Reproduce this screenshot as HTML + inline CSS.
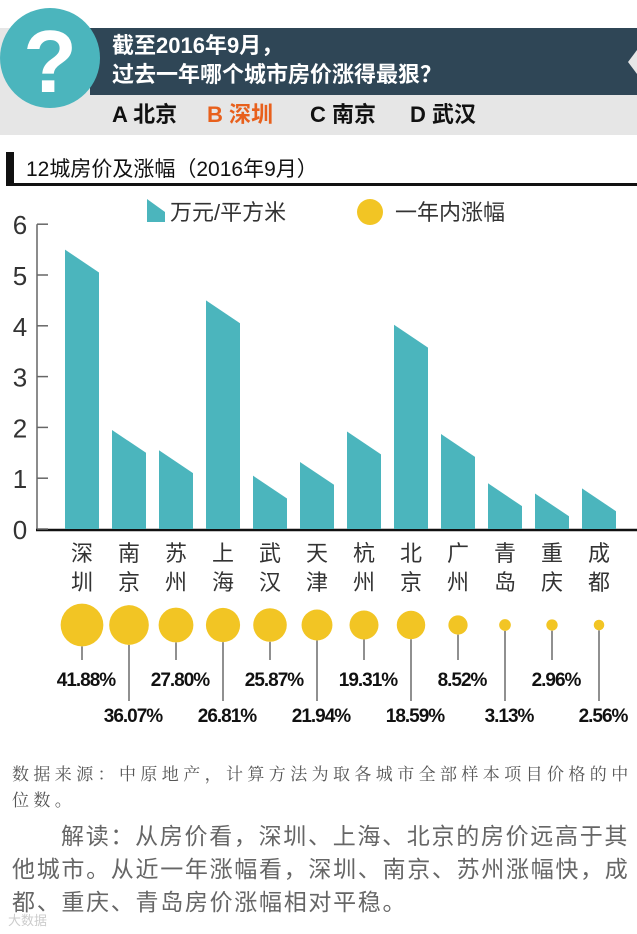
<!DOCTYPE html>
<html><head><meta charset="utf-8"><style>
html,body{margin:0;padding:0;background:#fff;}
body{width:637px;height:934px;overflow:hidden;position:relative;font-family:"Liberation Sans","Noto Sans CJK SC",sans-serif;}
svg{position:absolute;left:0;top:0;}
.src{position:absolute;left:12px;top:762px;width:700px;font-family:"Liberation Serif","Noto Serif CJK SC",serif;font-size:17px;line-height:26px;color:#555;letter-spacing:4.4px;white-space:nowrap;}
.txt{position:absolute;left:12px;top:820px;width:625px;font-size:23px;line-height:33px;color:#666;text-indent:49px;letter-spacing:1.7px;}
.wm{position:absolute;left:8px;top:910px;font-size:13px;color:#ccc;}
</style></head><body>
<svg width="637" height="934">
  <rect x="0" y="28" width="637" height="107" fill="#e6e6e6"/>
  <polygon points="90,28 637,28 637,50 628,62 637,74 637,95 90,95" fill="#2f4656"/>
  <circle cx="50" cy="58" r="50" fill="#4bb5bd"/>
  <text x="50" y="92" text-anchor="middle" font-size="88" font-weight="bold" fill="#fff">?</text>
  <text x="112" y="53" font-size="22" font-weight="bold" fill="#fff">截至2016年9月，</text>
  <text x="112" y="82" font-size="22" font-weight="bold" fill="#fff">过去一年哪个城市房价涨得最狠？</text>
  <text x="112" y="122" font-size="22" font-weight="bold" fill="#111">A 北京</text>
  <text x="207" y="122" font-size="22" font-weight="bold" fill="#e8601c">B 深圳</text>
  <text x="310" y="122" font-size="22" font-weight="bold" fill="#111">C 南京</text>
  <text x="410" y="122" font-size="22" font-weight="bold" fill="#111">D 武汉</text>
  <rect x="6" y="152" width="8" height="34" fill="#111"/>
  <rect x="6" y="183" width="631" height="3" fill="#111"/>
  <text x="26" y="176" font-size="21" fill="#111">12城房价及涨幅（2016年9月）</text>
  <polygon points="147,199 165,212 165,222 147,222" fill="#4bb5bd"/>
  <text x="170" y="220" font-size="22" fill="#333">万元/平方米</text>
  <circle cx="370" cy="212" r="13" fill="#f2c524"/>
  <text x="395" y="220" font-size="22" fill="#333">一年内涨幅</text>
  <g id="axis"></g><g id="bars"></g><g id="bubbles"></g>
</svg>
<div class="src">数据来源：中原地产，计算方法为取各城市全部样本项目价格的中<br>位数。</div>
<div class="txt">解读：从房价看，深圳、上海、北京的房价远高于其他城市。从近一年涨幅看，深圳、南京、苏州涨幅快，成都、重庆、青岛房价涨幅相对平稳。</div>
<div class="wm">大数据</div>
<script>
const cities=["深圳","南京","苏州","上海","武汉","天津","杭州","北京","广州","青岛","重庆","成都"];
const prices=[5.5,1.95,1.55,4.5,1.05,1.32,1.92,4.02,1.87,0.9,0.7,0.8];
const growth=[41.88,36.07,27.80,26.81,25.87,21.94,19.31,18.59,8.52,3.13,2.96,2.56];
const yTicks=[0,1,2,3,4,5,6];
const NS="http://www.w3.org/2000/svg";
function y(v){return 529-v*50.8;}
function xc(i){return 82+i*47;}
function mk(t,a,p){const e=document.createElementNS(NS,t);for(const k in a)e.setAttribute(k,a[k]);p.appendChild(e);return e;}
const ax=document.getElementById('axis'),bg=document.getElementById('bars'),bb=document.getElementById('bubbles');
const vline=mk('line',{x1:37,y1:y(6),x2:37,y2:y(0),stroke:'#666','stroke-width':1.5},ax);


const base=mk('line',{x1:36,y1:y(0)+1,x2:637,y2:y(0)+1,stroke:'#111','stroke-width':2.5},ax);


yTicks.forEach(t=>{
  const l=mk('line',{x1:37,y1:y(t),x2:48,y2:y(t),stroke:'#666','stroke-width':1.5},ax);
  
  
  const tx=mk('text',{x:20,y:y(t)+10,'font-size':26,fill:'#333','text-anchor':'middle'},ax);
  tx.textContent=t;
  
  
});
prices.forEach((v,i)=>{
  const l=xc(i)-17,r=xc(i)+17,d=0.45;
  const p=mk('polygon',{points:`${l},${y(v)} ${r},${y(Math.max(v-d,0.05))} ${r},${y(0)} ${l},${y(0)}`,fill:'#4bb5bd'},bg);
  
  
  [0,1].forEach(k=>{
    const t=mk('text',{x:xc(i),y:561+k*29,'font-size':22,fill:'#333','text-anchor':'middle'},bg);
    t.textContent=cities[i][k];
    
    
  });
});
growth.forEach((g,i)=>{
  const r=Math.sqrt(g)*3.3,cy=625,odd=i%2===1;
  const ln=mk('line',{x1:xc(i),y1:cy+r,x2:xc(i),y2:odd?701:660,stroke:'#555','stroke-width':1.3},bb);
  
  
  const c=mk('circle',{cx:xc(i),cy:cy,r:r,fill:'#f2c524'},bb);
  
  
  const t=mk('text',{x:xc(i)+4,y:odd?722:686,'font-size':19,'font-weight':'bold',fill:'#111','text-anchor':'middle','letter-spacing':'-1'},bb);
  t.textContent=g.toFixed(2)+'%';
  
  
});
</script>
</body></html>
